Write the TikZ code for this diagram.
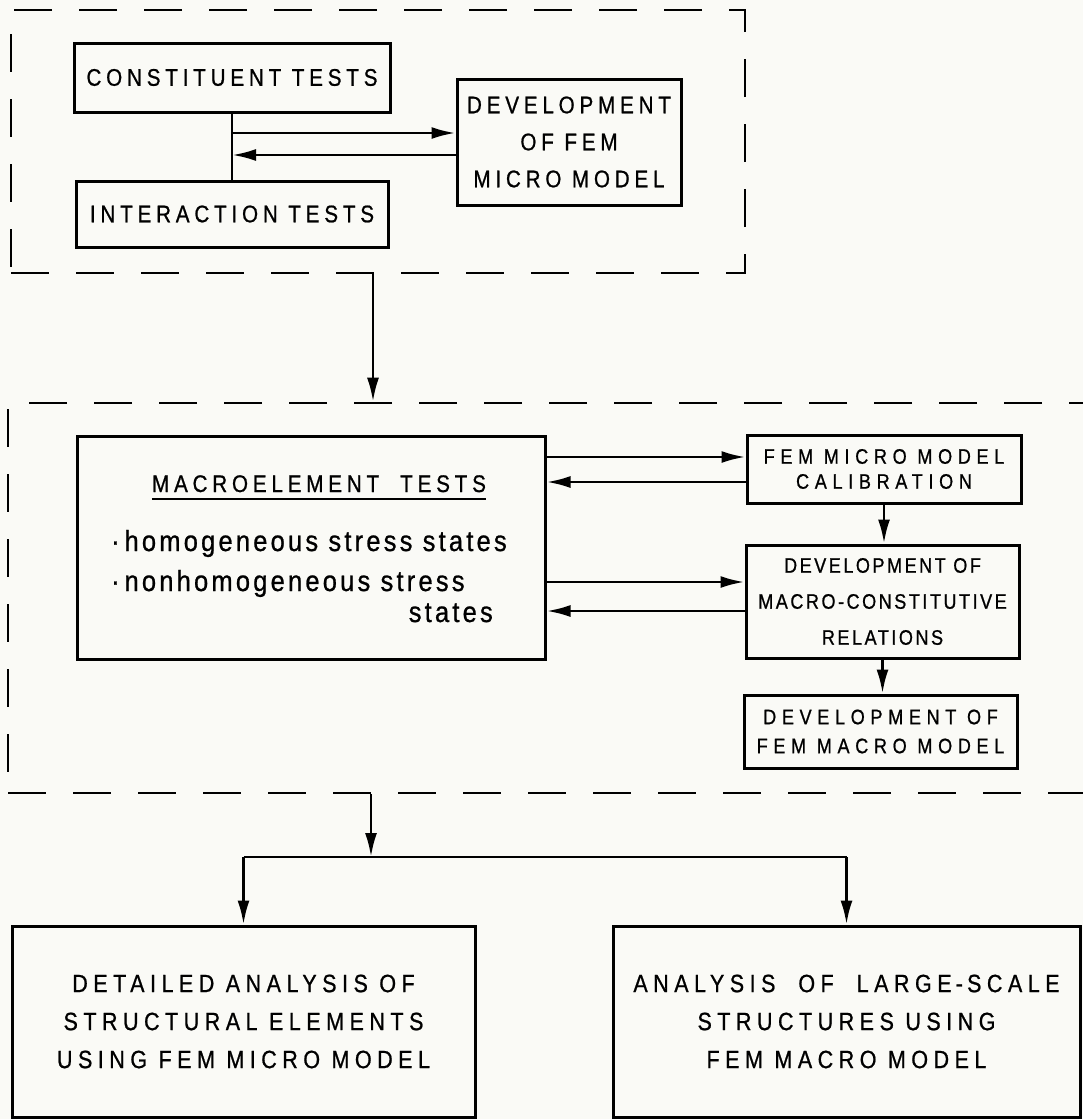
\documentclass[tikz,border=0pt]{standalone}
\usepackage{fontspec}
\setmainfont{Liberation Sans}
\newfontfamily\capsfont{Liberation Sans}[LetterSpace=20, FakeStretch=0.86, FakeBold=0.8]
\newfontfamily\widefont{Liberation Sans}[LetterSpace=22, FakeStretch=0.86, FakeBold=0.8]
\newfontfamily\midfont{Liberation Sans}[LetterSpace=27, FakeStretch=0.86, FakeBold=0.8]
\newfontfamily\tightfont{Liberation Sans}[LetterSpace=12, FakeStretch=0.86, FakeBold=0.8]
\newfontfamily\lowfont{Liberation Sans}[LetterSpace=11, FakeStretch=0.88, FakeBold=0.8]
\usetikzlibrary{arrows.meta, positioning, calc}
\definecolor{paper}{RGB}{250,250,246}

\begin{document}
\begin{tikzpicture}[x=1pt, y=-1pt,
  box/.style={draw, line width=3pt, inner sep=0pt, align=center},
  frame/.style={draw, dash pattern=on 38pt off 27pt, line width=2.6pt, inner sep=0pt},
  arr/.style={-{Latex[length=24pt,width=12pt]}, line width=2.8pt},
  link/.style={line width=2.8pt},
  capsnode/.style={font=\capsfont\fontsize{24}{37}\selectfont},
  midnode/.style={font=\midfont\fontsize{21}{#1}\selectfont},
  bignode/.style={font=\widefont\fontsize{25}{38}\selectfont},
  lownode/.style={font=\lowfont\fontsize{29}{30}\selectfont, inner sep=0pt}]
  \useasboundingbox (0,0) rectangle (1083,1119);
  \clip (0,0) rectangle (1083,1119);
  \fill[paper] (0,0) rectangle (1083,1119);

  % dashed frames
  \node (upper) [frame, minimum width=734pt, minimum height=263pt] at (378,141.5) {};
  \node (lower) [frame, minimum width=1102pt, minimum height=390pt] at (559,598) {};

  % test stage
  \node (constituent) [box, capsnode, minimum width=316pt, minimum height=69pt] at (232,77.5) {CONSTITUENT TESTS};
  \node (interaction) [box, capsnode, minimum width=312pt, minimum height=66pt] at (232,214) {INTERACTION TESTS};
  \node (devmicro) [box, capsnode, minimum width=224pt, minimum height=126pt] at (569,142) {DEVELOPMENT\\OF FEM\\MICRO MODEL};
  \draw[link] (constituent.south) -- (interaction.north);
  \draw[arr] ([yshift=9pt]devmicro.west -| constituent.south) -- ([yshift=9pt]devmicro.west);
  \draw[arr] ([yshift=-13pt]devmicro.west) -- ([yshift=-13pt]devmicro.west -| constituent.south);

  \draw[arr] ([xshift=-5pt]upper.south) -- ([xshift=-5pt]upper.south |- lower.north);

  % macroelement stage
  \node (macro) [box, minimum width=468pt, minimum height=223pt] at (311,547.5) {};
  \node (macrotitle) [capsnode, anchor=base, inner sep=0pt] at (319,492) {MACROELEMENT\ \ TESTS};
  \draw[line width=2pt] ([yshift=-7pt]macrotitle.base west) -- ([yshift=-7pt]macrotitle.base east);
  \node (homog) [lownode, anchor=base west] at (111,551) {·\,homogeneous stress states};
  \node (nonhomog) [lownode, anchor=base west] at (111,591) {·\,nonhomogeneous stress};
  \node (states) [lownode, anchor=base east] at (493,622) {states};

  \node (calib) [box, midnode=25, minimum width=274pt, minimum height=68pt] at (884,469) {FEM MICRO MODEL\\CALIBRATION};
  \node (devmacro) [box, font=\tightfont\fontsize{21}{36}\selectfont, minimum width=273pt, minimum height=113pt] at (882.5,601.5) {DEVELOPMENT OF\\MACRO-CONSTITUTIVE\\RELATIONS};
  \node (femmacro) [box, midnode=29, minimum width=273pt, minimum height=73pt] at (880.5,731.5) {DEVELOPMENT OF\\FEM MACRO MODEL};

  \draw[arr] ([yshift=12pt]calib.west -| macro.east) -- ([yshift=12pt]calib.west);
  \draw[arr] ([yshift=-13pt]calib.west) -- ([yshift=-13pt]calib.west -| macro.east);
  \draw[arr] ([yshift=19.5pt]devmacro.west -| macro.east) -- ([yshift=19.5pt]devmacro.west);
  \draw[arr] ([yshift=-9.5pt]devmacro.west) -- ([yshift=-9.5pt]devmacro.west -| macro.east);
  \draw[arr] (calib.south) -- (calib.south |- devmacro.north);
  \draw[arr] (devmacro.south) -- (devmacro.south |- femmacro.north);

  % analysis stage
  \node (detailed) [box, bignode, minimum width=463pt, minimum height=191pt] at (243.5,1021.5) {DETAILED ANALYSIS OF\\STRUCTURAL ELEMENTS\\USING FEM MICRO MODEL};
  \node (largescale) [box, bignode, minimum width=467pt, minimum height=191pt] at (846.5,1021.5) {ANALYSIS\ \ OF\ \ LARGE\,-\,SCALE\\STRUCTURES USING\\FEM MACRO MODEL};
  \coordinate (hub) at (371,857);
  \draw[arr] (hub |- lower.south) -- (hub);
  \draw[link] (detailed.north |- hub) -- (largescale.north |- hub);
  \draw[arr] (detailed.north |- hub) -- (detailed.north);
  \draw[arr] (largescale.north |- hub) -- (largescale.north);
\end{tikzpicture}
\end{document}
